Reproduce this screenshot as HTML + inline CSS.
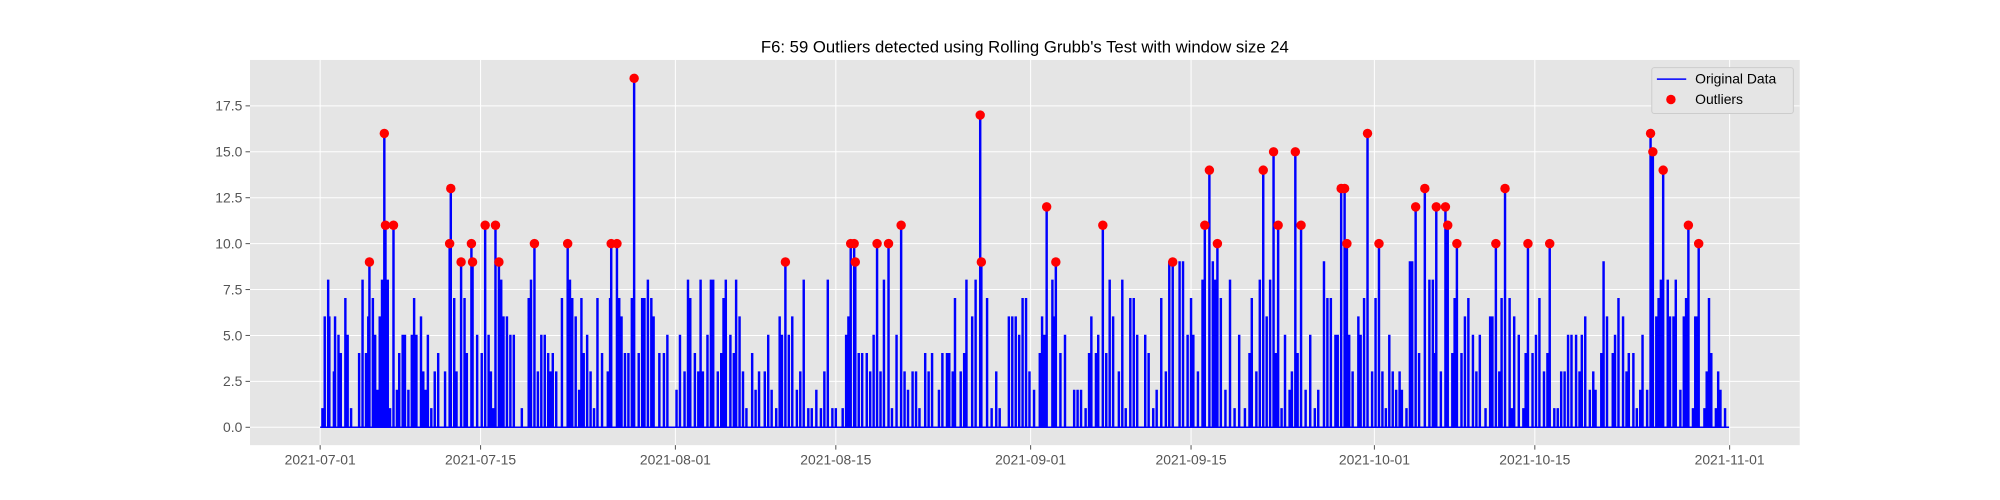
<!DOCTYPE html>
<html><head><meta charset="utf-8">
<style>
html,body{margin:0;padding:0;background:#fff;}
svg{display:block;font-family:"Liberation Sans","DejaVu Sans",sans-serif;}
</style></head>
<body>
<svg id="chart" width="2000" height="500" viewBox="0 0 2000 500">
<g id="root" transform="scale(1.27551)"></g>
</svg>
<script>
// ---- data (day offsets from 2021-07-01, values) ----
const baseDays = [0.2,0.4,0.7,0.8,1.2,1.3,1.6,1.8,2.2,2.4,2.7,3.4,3.7,4.0,4.2,4.6,4.8,5.0,5.2,5.4,5.9,6.1,6.7,6.9,7.2,7.4,7.7,8.0,8.2,8.4,8.8,9.0,9.2,9.4,9.7,10.0,10.3,10.9,11.7,11.9,12.6,12.8,13.7,14.1,14.7,14.9,15.1,15.8,16.0,16.3,16.6,16.9,17.6,18.2,18.4,19.0,19.3,19.6,19.9,20.1,20.3,20.6,21.1,21.8,22.0,22.3,22.6,22.8,23.0,23.3,23.6,23.9,24.2,24.6,25.1,25.3,26.1,26.3,26.6,26.9,27.2,27.8,28.1,28.3,28.6,28.9,29.1,29.6,30.0,30.3,31.1,31.4,31.8,32.1,32.3,32.7,33.0,33.2,33.4,33.8,34.1,34.3,34.7,35.0,35.2,35.4,35.8,36.1,36.3,36.6,36.9,37.2,37.7,38.0,38.3,38.8,39.1,39.4,39.8,40.1,40.3,40.9,41.2,41.6,41.9,42.2,42.6,42.9,43.3,43.7,44.0,44.3,44.7,45.0,45.6,45.9,46.1,47.0,47.3,47.7,48.0,48.3,48.9,49.2,49.9,50.3,51.0,51.3,51.7,52.0,52.3,52.8,53.1,53.4,54.0,54.3,54.7,54.9,55.2,55.4,55.9,56.2,56.4,56.9,57.2,58.2,58.6,59.0,59.3,60.1,60.4,60.7,61.0,61.3,61.6,61.9,62.3,62.8,63.0,63.2,63.9,64.1,64.6,65.0,65.8,66.1,66.4,66.8,67.1,67.3,67.7,67.9,68.6,68.9,69.2,69.7,70.0,70.3,70.7,71.0,71.3,72.0,72.3,72.7,73.0,73.4,73.8,74.1,75.0,75.3,75.7,76.0,76.2,76.6,77.0,77.9,78.1,78.6,79.0,79.4,79.8,80.2,80.7,81.1,81.3,81.7,82.0,82.6,82.9,83.4,83.9,84.2,84.6,84.8,85.3,86.0,86.4,86.8,87.1,87.6,87.9,88.2,88.6,88.8,89.8,90.1,90.6,90.8,91.1,91.8,92.1,92.7,93.0,93.3,93.6,93.9,94.2,94.4,94.8,95.1,95.3,95.9,96.8,97.1,97.2,97.8,98.8,99.0,99.6,99.9,100.2,100.6,100.9,101.2,101.7,102.1,102.3,102.9,103.1,103.8,104.0,104.2,104.6,105.0,105.2,105.8,106.1,106.4,106.8,107.1,107.7,108.0,108.3,108.6,108.9,109.2,109.6,109.9,110.1,110.4,110.8,111.1,111.3,111.8,112.0,112.3,112.8,113.0,113.3,113.7,114.0,114.2,114.6,114.9,115.2,115.4,115.8,116.6,116.8,117.0,117.6,117.8,118.1,118.3,118.7,119.0,119.2,119.8,120.0,120.2,120.8,121.0,121.2,121.4,121.8,122.0,122.2,122.6];
const baseVals = [1,6,8,6,3,6,5,4,7,5,1,4,8,4,6,7,5,2,6,8,8,1,2,4,5,5,2,5,7,5,6,3,2,5,1,3,4,3,7,3,7,4,5,4,5,3,1,8,6,6,5,5,1,7,8,3,5,5,4,3,4,3,7,8,7,6,2,7,4,5,3,1,7,4,3,7,7,6,4,4,7,4,7,7,8,7,6,4,4,5,2,5,3,8,7,4,3,8,3,5,8,8,3,4,7,8,5,4,8,6,3,1,4,2,3,3,5,2,1,6,5,5,6,2,3,8,1,1,2,1,3,8,1,1,1,5,6,4,4,4,3,5,3,8,1,5,3,2,3,3,1,4,3,4,2,4,4,4,3,7,3,4,8,6,8,7,1,3,1,6,6,6,5,7,7,3,2,4,6,5,8,6,4,5,2,2,2,1,4,6,4,5,4,8,6,3,8,1,7,7,5,5,4,1,2,7,3,9,9,9,5,7,5,3,8,9,8,7,2,8,1,5,1,4,7,3,8,6,8,4,1,5,2,3,4,2,5,1,2,9,7,7,5,5,5,3,6,5,7,3,7,3,1,5,3,2,3,2,1,9,9,4,8,8,4,3,4,7,4,6,7,5,3,5,1,6,6,3,7,7,1,6,5,1,4,4,5,7,3,4,1,1,3,3,5,5,5,3,5,6,2,3,2,4,9,6,4,5,7,6,3,4,4,1,2,5,2,6,7,8,8,6,6,8,2,6,7,1,6,6,1,3,7,4,1,3,2,1];
const outlierDays = [4.3,5.6,5.7,6.4,11.3,11.4,12.3,13.2,13.3,14.4,15.3,15.6,18.7,21.6,25.4,25.9,27.4,40.6,46.3,46.6,46.7,48.6,49.6,50.7,57.6,57.7,63.4,64.2,68.3,74.4,77.2,77.6,78.3,82.3,83.2,83.6,85.1,85.6,89.1,89.4,89.6,91.4,92.4,95.6,96.4,97.4,98.2,98.4,99.2,102.6,103.4,105.4,107.3,116.1,116.3,117.2,119.4,120.3];
const outlierVals = [9,16,11,11,10,13,9,10,9,11,11,9,10,10,10,10,19,9,10,10,9,10,10,11,17,9,12,9,11,9,11,14,10,14,15,11,15,11,13,13,10,16,10,12,13,12,12,11,10,10,13,10,10,16,15,14,11,10];
const yTicks = [0,2.5,5,7.5,10,12.5,15,17.5];
const xTickDays = [0,14,31,45,62,76,92,106,123];
const xTickLabels = ["2021-07-01","2021-07-15","2021-08-01","2021-08-15","2021-09-01","2021-09-15","2021-10-01","2021-10-15","2021-11-01"];
const dataEnd = 122.95;

const svg = document.getElementById('root');
const NS = 'http://www.w3.org/2000/svg';
const L=196,R=1411,T=47,B=349;
const xs = d => 251 + d*8.984;
const ys = v => 335 - v*14.4;
const FS = 10.9;
function mk(tag, attrs, parent){const e=document.createElementNS(NS,tag);for(const k in attrs)e.setAttribute(k,attrs[k]);(parent||svg).appendChild(e);return e;}

const bg = mk('rect',{x:L,y:T,width:R-L,height:B-T,fill:'#e5e5e5'});



yTicks.forEach(v=>{
  const g = mk('line',{x1:L,x2:R,y1:ys(v),y2:ys(v),stroke:'#fff','stroke-width':0.8});
  
  
  const tk = mk('line',{x1:L-3.5,x2:L,y1:ys(v),y2:ys(v),stroke:'#555','stroke-width':0.8});
  
  
  const t = mk('text',{x:L-6,y:ys(v)+3.8,'text-anchor':'end','font-size':FS,fill:'#555'});
  t.textContent = v.toFixed(1);
  
  
});
xTickDays.forEach((d,i)=>{
  const g = mk('line',{x1:xs(d),x2:xs(d),y1:T,y2:B,stroke:'#fff','stroke-width':0.8});
  
  
  const tk = mk('line',{x1:xs(d),x2:xs(d),y1:B,y2:B+3.5,stroke:'#555','stroke-width':0.8});
  
  
  const t = mk('text',{x:xs(d),y:B+15,'text-anchor':'middle','font-size':FS,fill:'#555'});
  t.textContent = xTickLabels[i];
  
  
});

// merge spikes
const spikes = [];
baseDays.forEach((d,i)=>spikes.push([d,baseVals[i]]));
outlierDays.forEach((d,i)=>spikes.push([d,outlierVals[i]]));
spikes.sort((a,b)=>a[0]-b[0]);
let p = 'M'+xs(0)+','+ys(0);
const w = 0.04;
spikes.forEach(s=>{
  p += ' L'+xs(s[0]-w).toFixed(2)+','+ys(0)+' L'+xs(s[0]-w).toFixed(2)+','+ys(s[1]).toFixed(2)+' L'+xs(s[0]+w).toFixed(2)+','+ys(s[1]).toFixed(2)+' L'+xs(s[0]+w).toFixed(2)+','+ys(0);
});
p += ' L'+xs(dataEnd)+','+ys(0);
const line = mk('path',{d:p,fill:'none',stroke:'#0000ff','stroke-width':1.2,'stroke-linejoin':'miter'});



outlierDays.forEach((d,i)=>{
  const c = mk('circle',{cx:xs(d),cy:ys(outlierVals[i]),r:3.7,fill:'#ff0000'});
  
  
});

const title = mk('text',{x:(L+R)/2,y:41,'text-anchor':'middle','font-size':13.1,fill:'#000'});
title.textContent = "F6: 59 Outliers detected using Rolling Grubb's Test with window size 24";



// legend
const lg = mk('g',{});


mk('rect',{x:1295,y:53,width:111,height:36,fill:'#e5e5e5',stroke:'#cccccc','stroke-width':0.8,rx:2},lg);
const l1 = mk('line',{x1:1299,x2:1322,y1:62,y2:62,stroke:'#0000ff','stroke-width':1.2},lg);


const t1 = mk('text',{x:1329,y:65.5,'font-size':FS,fill:'#000'},lg);
t1.textContent='Original Data';


const c2 = mk('circle',{cx:1310,cy:78,r:3.7,fill:'#ff0000'},lg);


const t2 = mk('text',{x:1329,y:81.5,'font-size':FS,fill:'#000'},lg);
t2.textContent='Outliers';


</script>
</body></html>
